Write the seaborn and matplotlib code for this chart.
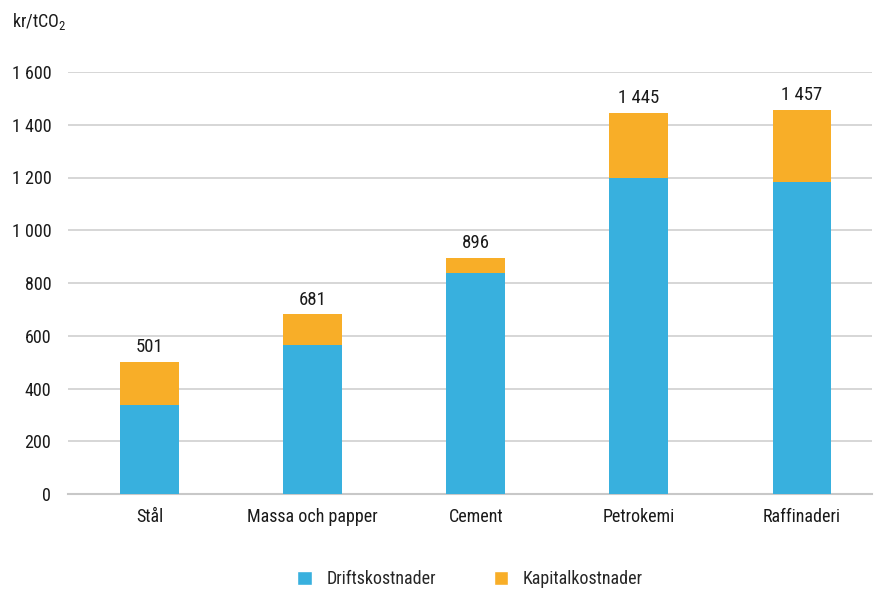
import matplotlib
matplotlib.use("Agg")
import matplotlib.pyplot as plt
from matplotlib import font_manager
from matplotlib.patches import Patch
import seaborn as sns
import pandas as pd

sectors = ["Stål", "Massa och papper", "Cement", "Petrokemi", "Raffinaderi"]
drift = [336, 565, 837, 1199, 1184]
kapital = [165, 116, 59, 246, 273]
yticks = [0, 200, 400, 600, 800, 1000, 1200, 1400, 1600]

BLUE = "#38B0DE"
ORANGE = "#F8AE28"

sns.set_theme(style="white")


def pick_narrow_font():
    """Prefer a condensed sans-serif face if one is installed."""
    cands = []
    for f in font_manager.fontManager.ttflist:
        name = f.name.lower()
        stretch = str(f.stretch).lower()
        narrow = ("narrow" in name or "condensed" in name
                  or "condensed" in stretch or stretch in ("semi-condensed",))
        if narrow and f.style == "normal" and str(f.weight) in ("400", "normal", "regular", "book"):
            cands.append(f)
    order = ["liberation sans narrow", "roboto condensed", "open sans", "noto sans",
             "dejavu sans", "lato", "inter"]
    for pref in order:
        for f in cands:
            if f.name.lower().startswith(pref):
                return f.fname
    return cands[0].fname if cands else None


narrow_file = pick_narrow_font()
if narrow_file:
    font_manager.fontManager.addfont(narrow_file)
    fam = font_manager.FontProperties(fname=narrow_file).get_name()
    plt.rcParams["font.family"] = [fam, "DejaVu Sans"]
    base = 13
else:
    plt.rcParams["font.family"] = ["Liberation Sans", "DejaVu Sans"]
    base = 12
plt.rcParams["mathtext.default"] = "regular"


def fmt(v):
    return f"{int(round(v)):,}".replace(",", " ")


totals = [d + k for d, k in zip(drift, kapital)]
df = pd.DataFrame({"sektor": sectors, "drift": drift, "total": totals})

fig = plt.figure(figsize=(8.75, 5.91), dpi=100)
ax = fig.add_axes([68 / 875, 1 - 494 / 591, (872 - 68) / 875, (494 - 72) / 591])

# Stacked bars: full total in orange, operating cost in blue on top of it
sns.barplot(data=df, x="sektor", y="total", color=ORANGE, width=0.36,
            saturation=1, linewidth=0, ax=ax, zorder=3)
sns.barplot(data=df, x="sektor", y="drift", color=BLUE, width=0.36,
            saturation=1, linewidth=0, ax=ax, zorder=4)

for i, t in enumerate(totals):
    ax.text(i, t + 22, fmt(t), ha="center", va="bottom", fontsize=base + 0.5,
            color="#1a1a1a", zorder=5)

ax.set_ylim(0, 1600)
ax.set_xlim(-0.5, 4.43)
ax.set_yticks(yticks)
ax.set_yticklabels([fmt(v) for v in yticks])
ax.yaxis.grid(True, color="#d0d0d0", linewidth=1.2, zorder=0)
ax.set_axisbelow(True)
for s in ["top", "right", "left"]:
    ax.spines[s].set_visible(False)
ax.spines["bottom"].set_color("#c8c8c8")
ax.spines["bottom"].set_linewidth(1.5)
ax.tick_params(axis="both", length=0, labelsize=base, colors="#1a1a1a")
ax.tick_params(axis="y", pad=12)
ax.tick_params(axis="x", pad=10)
ax.set_xlabel("")
ax.set_ylabel("")

fig.text(12 / 875, 1 - 22 / 591, "kr/tCO$_2$", fontsize=base, color="#1a1a1a",
         ha="left", va="center")

handles = [Patch(facecolor=BLUE, label="Driftskostnader"),
           Patch(facecolor=ORANGE, label="Kapitalkostnader")]
fig.legend(handles=handles, loc="center", bbox_to_anchor=(470 / 875, 1 - 579 / 591),
           ncol=2, frameon=False, fontsize=base, handlelength=0.8, handleheight=0.8,
           columnspacing=3.2, handletextpad=0.8, borderpad=0.2)

fig.savefig("out.png", dpi=100)
